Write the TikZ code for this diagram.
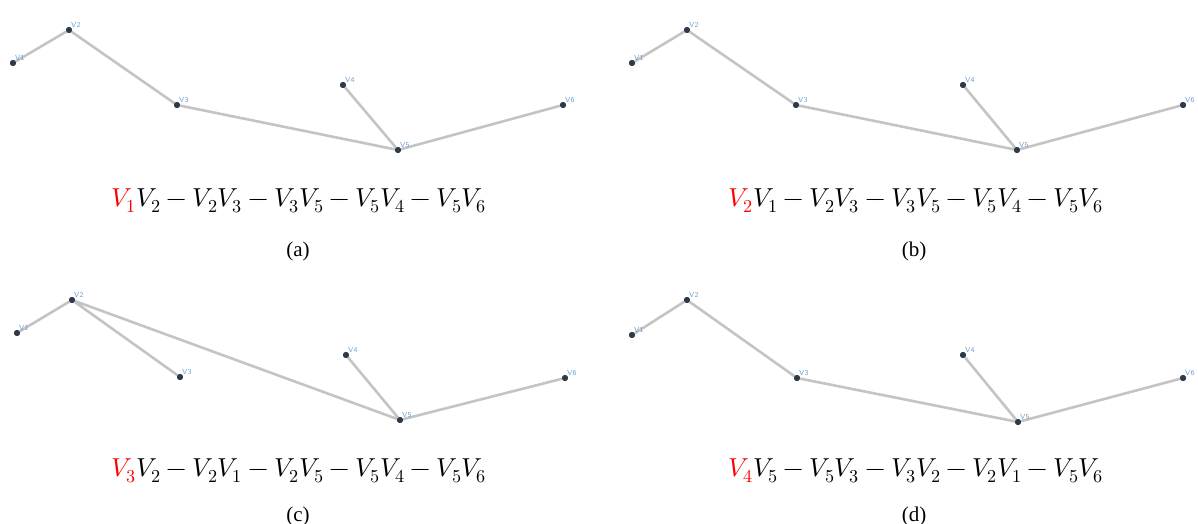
\documentclass[tikz,border=0pt]{standalone}
\usepackage{fontspec}
\setmainfont{Liberation Serif}
\usepackage{unicode-math}
\setmathfont{Latin Modern Math}
\definecolor{dotc}{HTML}{2E3A4A}
\definecolor{lblc}{HTML}{6F9FD3}
\definecolor{lnkc}{HTML}{C4C4C4}
\begin{document}
\begin{tikzpicture}[x=1pt,y=-1pt,
  vtx/.style={circle,fill=dotc,inner sep=0pt,minimum size=6pt},
  vlbl/.style={font=\sffamily\fontsize{7.5}{8}\selectfont,text=lblc,inner sep=0pt,anchor=south west,xshift=2pt,yshift=2pt},
  lnk/.style={draw=lnkc,line width=2.6pt},
  formula/.style={font=\fontsize{26}{30}\selectfont,inner sep=0pt},
  subcap/.style={font=\fontsize{21}{24}\selectfont,inner sep=0pt}]
\useasboundingbox (0,0) rectangle (1198,524);
% ---------- panel (a)
\node[vtx] (a1) at (13,63) {};
\node[vtx] (a2) at (69,30) {};
\node[vtx] (a3) at (177,105) {};
\node[vtx] (a4) at (343,85) {};
\node[vtx] (a5) at (398,150) {};
\node[vtx] (a6) at (563,105) {};
\draw[lnk] (a1) -- (a2) (a2) -- (a3) (a3) -- (a5) (a5) -- (a4) (a5) -- (a6);
\foreach \i in {1,...,6} {\node[vtx] at (a\i) {}; \node[vlbl] (la\i) at (a\i) {V\i};}
\node[formula] (fa) at (299,201) {$\textcolor{red}{V_1}V_2-V_2V_3-V_3V_5-V_5V_4-V_5V_6$};
\node[subcap] (ca) at (298,251) {(a)};
% ---------- panel (b)
\node[vtx] (b1) at (632,63) {};
\node[vtx] (b2) at (687,30) {};
\node[vtx] (b3) at (796,105) {};
\node[vtx] (b4) at (963,85) {};
\node[vtx] (b5) at (1017,150) {};
\node[vtx] (b6) at (1183,105) {};
\draw[lnk] (b1) -- (b2) (b2) -- (b3) (b3) -- (b5) (b5) -- (b4) (b5) -- (b6);
\foreach \i in {1,...,6} {\node[vtx] at (b\i) {}; \node[vlbl] (lb\i) at (b\i) {V\i};}
\node[formula] (fb) at (916,201) {$\textcolor{red}{V_2}V_1-V_2V_3-V_3V_5-V_5V_4-V_5V_6$};
\node[subcap] (cb) at (914,251) {(b)};
% ---------- panel (c)
\node[vtx] (c1) at (17,333) {};
\node[vtx] (c2) at (72,300) {};
\node[vtx] (c3) at (180,377) {};
\node[vtx] (c4) at (346,355) {};
\node[vtx] (c5) at (400,420) {};
\node[vtx] (c6) at (565,378) {};
\draw[lnk] (c1) -- (c2) (c2) -- (c3) (c2) -- (c5) (c5) -- (c4) (c5) -- (c6);
\foreach \i in {1,...,6} {\node[vtx] at (c\i) {}; \node[vlbl] (lc\i) at (c\i) {V\i};}
\node[formula] (fc) at (299,471) {$\textcolor{red}{V_3}V_2-V_2V_1-V_2V_5-V_5V_4-V_5V_6$};
\node[subcap] (cc) at (298,516) {(c)};
% ---------- panel (d)
\node[vtx] (d1) at (632,335) {};
\node[vtx] (d2) at (687,300) {};
\node[vtx] (d3) at (797,378) {};
\node[vtx] (d4) at (963,355) {};
\node[vtx] (d5) at (1018,422) {};
\node[vtx] (d6) at (1183,378) {};
\draw[lnk] (d1) -- (d2) (d2) -- (d3) (d3) -- (d5) (d5) -- (d4) (d5) -- (d6);
\foreach \i in {1,...,6} {\node[vtx] at (d\i) {}; \node[vlbl] (ld\i) at (d\i) {V\i};}
\node[formula] (fd) at (916,471) {$\textcolor{red}{V_4}V_5-V_5V_3-V_3V_2-V_2V_1-V_5V_6$};
\node[subcap] (cd) at (914,516) {(d)};
\end{tikzpicture}
\end{document}
